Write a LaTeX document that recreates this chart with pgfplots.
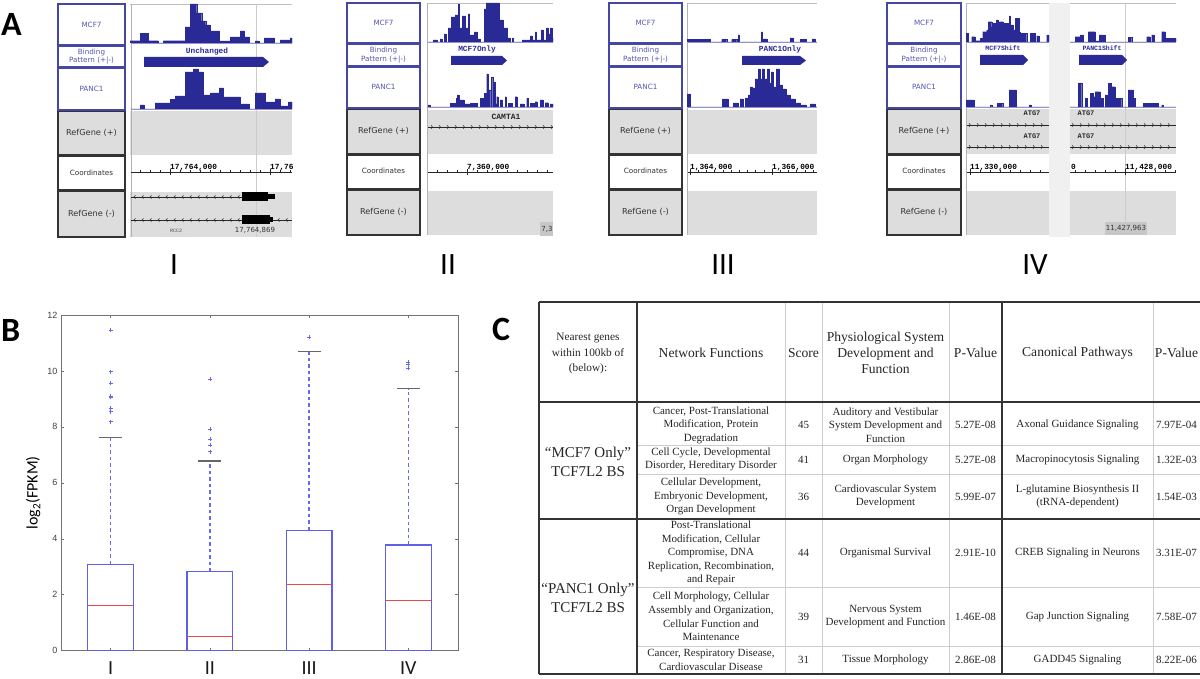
\documentclass[border=0pt]{standalone}
\usepackage{pgfplots}
\pgfplotsset{compat=1.18}
\usepgfplotslibrary{statistics}
\usepackage{fontspec}
\setmainfont{Liberation Serif}
\newfontfamily\carl{Carlito}
\newfontfamily\lsans{Liberation Sans}
\newfontfamily\dv{DejaVu Sans}
\newfontfamily\mono{Liberation Mono}
\definecolor{trkc}{RGB}{42,42,150}
\definecolor{lblue}{RGB}{70,70,165}
\definecolor{ltxt}{RGB}{85,85,175}
\definecolor{gfill}{RGB}{221,221,221}
\definecolor{bpblue}{RGB}{95,95,235}
\definecolor{wblue}{RGB}{105,105,240}
\definecolor{bpred}{RGB}{240,70,70}
\definecolor{tgrey}{RGB}{205,205,205}

% histogram track: x0 x1 width baseline(px from top) height coords
\newcommand\trk[6]{%
\begin{axis}[at={(#1pt,{678pt-#4pt})}, anchor=south west, scale only axis,
  width=#3pt, height=#5pt, xmin=#1, xmax=#2, ymin=0, ymax=#5, hide axis, clip=true]
\addplot[const plot, fill=trkc, draw=trkc, line width=0.3pt] coordinates {#6} \closedcycle;
\end{axis}}

% label column
\newcommand\labelcol[9]{%
 \draw[lblue, line width=1.1pt, fill=white] (#1,#3) rectangle (#2,#4);
 \draw[lblue, line width=1.1pt, fill=white] (#1,{#4+1.5}) rectangle (#2,#5);
 \draw[lblue, line width=1.1pt, fill=white] (#1,{#5+1.5}) rectangle (#2,#6);
 \draw[black!80, line width=1.6pt, fill=gfill] (#1,{#6+1.5}) rectangle (#2,#7);
 \draw[black!80, line width=1.6pt, fill=white] (#1,{#7+1.5}) rectangle (#2,#8);
 \draw[black!80, line width=1.6pt, fill=gfill] (#1,{#8+1.5}) rectangle (#2,#9);
 \node[ltxt, font=\dv\fontsize{7.2}{8}\selectfont] at ({(#1+#2)/2},{(#3+#4)/2}) {MCF7};
 \node[ltxt, align=center, font=\dv\fontsize{7.2}{8.6}\selectfont] at ({(#1+#2)/2},{(#4+#5)/2+0.7}) {Binding\\Pattern (+|-)};
 \node[ltxt, font=\dv\fontsize{7.2}{8}\selectfont] at ({(#1+#2)/2},{(#5+#6)/2}) {PANC1};
 \node[black!80, font=\dv\fontsize{8.2}{9}\selectfont] at ({(#1+#2)/2},{(#6+#7)/2}) {RefGene (+)};
 \node[black!80, font=\dv\fontsize{7.2}{8}\selectfont] at ({(#1+#2)/2},{(#7+#8)/2}) {Coordinates};
 \node[black!80, font=\dv\fontsize{8.2}{9}\selectfont] at ({(#1+#2)/2},{(#8+#9)/2}) {RefGene (-)};
}
\newcommand\bmono{\mono\bfseries\fontsize{7.8}{8}\selectfont}
\newcommand\tc[3]{\node[align=center, font=\fontsize{11}{13.6}\selectfont, text=black!85, inner sep=0] at (#1,#2) {#3};}
\newcommand\thd[3]{\node[align=center, font=\fontsize{13.6}{16}\selectfont, text=black!85, inner sep=0] at (#1,#2) {#3};}

\begin{document}
\begin{tikzpicture}[x=1pt,y=1pt]
\fill[white] (0,0) rectangle (1200,678);

\begin{scope}[shift={(0pt,678pt)}, y=-1pt]
% ---------------- Panel letters
\node[anchor=base west, inner sep=0, font=\carl\bfseries\fontsize{34}{34}\selectfont] at (1,36) {A};
\node[anchor=base west, inner sep=0, font=\carl\bfseries\fontsize{34}{34}\selectfont] at (1,342) {B};
\node[anchor=base west, inner sep=0, font=\carl\bfseries\fontsize{34}{34}\selectfont] at (492,341) {C};
% roman numerals
\foreach \xx/\tt in {174/I,448/II,723/III,1035/IV}
  \node[anchor=base, inner sep=0, font=\carl\fontsize{31}{31}\selectfont] at (\xx,275) {\tt};

% ---------------- Panel I window
\fill[gfill] (130,111) rectangle (292,155);
\fill[gfill] (130,192) rectangle (292,237);
\draw[black!25, line width=0.6pt] (130,4)--(292,4);
\draw[black!30, line width=0.8pt] (131,4)--(131,237);
\draw[black!20, line width=0.6pt] (256,4)--(256,237);
\draw[trkc!50, line width=0.5pt] (131,43)--(292,43) (131,109)--(292,109);
\node[trkc, font=\bmono] at (207,51.5) {Unchanged};
\fill[trkc] (144,57)--(263,57)--(269,62)--(263,67)--(144,67)--cycle;
\draw[black!85, line width=0.8pt] (131,172)--(292,172);
\foreach \xx in {140,150,...,290} \draw[black!85, line width=0.5pt] (\xx,170.5)--(\xx,173.5);
\foreach \xx in {170,270} \draw[black!85, line width=0.9pt] (\xx,169)--(\xx,175);
\node[anchor=base west, inner sep=0, font=\bmono] at (170,170) {17,764,000};
\node[anchor=base west, inner sep=0, font=\bmono] at (270,170) {17,76};
\draw[black!85, line width=0.6pt] (131,197)--(242,197);
\foreach \xx in {134,142,...,238} \draw[black!85, line width=0.5pt] (\xx+1.5,195.3)--(\xx,197)--(\xx+1.5,198.7);
\fill[black] (242,192.5) rectangle (268,201.5);
\fill[black] (268,194.5) rectangle (275,199.5);
\draw[black!85, line width=0.6pt] (131,220)--(292,220);
\foreach \xx in {134,142,...,238} \draw[black!85, line width=0.5pt] (\xx+1.5,218.3)--(\xx,220)--(\xx+1.5,221.7);
\foreach \xx in {278,286} \draw[black!85, line width=0.5pt] (\xx+1.5,218.3)--(\xx,220)--(\xx+1.5,221.7);
\fill[black] (242,215.5) rectangle (270,224.5);
\fill[black] (270,217.5) rectangle (273,222.5);
\node[font=\mono\fontsize{5}{5}\selectfont, black!70] at (176,230.5) {RCC2};
\draw[black!15, line width=0.8pt] (160,234)--(188,234);
\node[font=\dv\fontsize{7}{7}\selectfont, black!80] at (255,230) {17,764,869};

% ---------------- Panel II window
\fill[gfill] (427,110) rectangle (553,154);
\fill[gfill] (427,191) rectangle (553,235);
\draw[black!25, line width=0.6pt] (427,3)--(553,3);
\draw[black!30, line width=0.8pt] (427.5,3)--(427.5,235);
\draw[trkc!50, line width=0.5pt] (428,42)--(553,42) (428,107)--(553,107);
\node[trkc, font=\bmono] at (477,49) {MCF7Only};
\fill[trkc] (451,56)--(502,56)--(507,60.5)--(502,65)--(451,65)--cycle;
\node[font=\mono\bfseries\fontsize{8}{8}\selectfont, black!85] at (506,117) {CAMTA1};
\draw[black!85, line width=0.6pt] (428,127)--(553,127);
\foreach \xx in {431,439,...,551} \draw[black!85, line width=0.5pt] (\xx,125.3)--(\xx+1.5,127)--(\xx,128.7);
\draw[black!85, line width=0.8pt] (428,172)--(553,172);
\foreach \xx in {437,447,...,547} \draw[black!85, line width=0.5pt] (\xx,170.5)--(\xx,173.5);
\draw[black!85, line width=0.9pt] (467,169)--(467,175);
\node[anchor=base west, inner sep=0, font=\bmono] at (467,170) {7,360,000};
\fill[black!22] (540,222) rectangle (553,236);
\node[font=\dv\fontsize{7}{7}\selectfont, black!80] at (547,229) {7,3};

% ---------------- Panel III window
\fill[gfill] (687,110) rectangle (817,154);
\fill[gfill] (687,191) rectangle (817,235);
\draw[black!25, line width=0.6pt] (687,3)--(817,3);
\draw[black!30, line width=0.8pt] (687.5,3)--(687.5,235);
\draw[trkc!50, line width=0.5pt] (688,42)--(817,42) (688,107)--(817,107);
\node[trkc, font=\bmono] at (780,49) {PANC1Only};
\fill[trkc] (742,56)--(800,56)--(806,60.5)--(800,65)--(742,65)--cycle;
\draw[black!85, line width=0.8pt] (688,172)--(817,172);
\foreach \xx in {698.2,706.4,...,815} \draw[black!85, line width=0.5pt] (\xx,170.5)--(\xx,173.5);
\foreach \xx in {690,772} \draw[black!85, line width=0.9pt] (\xx,169)--(\xx,175);
\node[anchor=base west, inner sep=0, font=\bmono] at (690,170) {1,364,000};
\node[anchor=base west, inner sep=0, font=\bmono] at (772,170) {1,366,000};

% ---------------- Panel IV windows
\fill[black!6] (1049,3) rectangle (1070,237);
\fill[gfill] (966,109) rectangle (1049,154);
\fill[gfill] (1070,109) rectangle (1176,154);
\fill[gfill] (966,191) rectangle (1049,235);
\fill[gfill] (1070,191) rectangle (1176,235);
\draw[black!25, line width=0.6pt] (966,3)--(1049,3) (1070,3)--(1176,3);
\draw[black!30, line width=0.8pt] (966.5,3)--(966.5,235);
\draw[black!20, line width=0.6pt] (1125,3)--(1125,235);
\draw[trkc!50, line width=0.5pt] (967,42)--(1049,42) (1070,42)--(1176,42) (967,107)--(1049,107) (1070,107)--(1176,107);
\node[trkc, font=\mono\bfseries\fontsize{6.5}{7}\selectfont] at (1003,48) {MCF7Shift};
\fill[trkc] (980,55)--(1023,55)--(1028,60)--(1023,65)--(980,65)--cycle;
\node[trkc, font=\mono\bfseries\fontsize{6.5}{7}\selectfont] at (1102,48) {PANC1Shift};
\fill[trkc] (1079,55)--(1122,55)--(1127,60)--(1122,65)--(1079,65)--cycle;
\foreach \yy in {113,136} {
  \node[font=\mono\bfseries\fontsize{7}{7}\selectfont, black!85] at (1032,\yy) {ATG7};
  \node[font=\mono\bfseries\fontsize{7}{7}\selectfont, black!85] at (1086,\yy) {ATG7};
}
\foreach \yy in {125,147} {
  \draw[black!85, line width=0.6pt] (967,\yy)--(1049,\yy) (1070,\yy)--(1176,\yy);
  \foreach \xx in {969,977,...,1047} \draw[black!85, line width=0.5pt] (\xx,\yy-1.7)--(\xx+1.5,\yy)--(\xx,\yy+1.7);
  \foreach \xx in {1072,1080,...,1174} \draw[black!85, line width=0.5pt] (\xx,\yy-1.7)--(\xx+1.5,\yy)--(\xx,\yy+1.7);
}
\draw[black!85, line width=0.8pt] (967,172)--(1049,172) (1070,172)--(1176,172);
\foreach \xx in {980,990,...,1040} \draw[black!85, line width=0.5pt] (\xx,170.5)--(\xx,173.5);
\foreach \xx in {1075,1085,...,1175} \draw[black!85, line width=0.5pt] (\xx,170.5)--(\xx,173.5);
\foreach \xx in {970,1125} \draw[black!85, line width=0.9pt] (\xx,169)--(\xx,175);
\node[anchor=base west, inner sep=0, font=\bmono] at (970,170) {11,330,000};
\node[anchor=base west, inner sep=0, font=\bmono] at (1125,170) {11,428,000};
\node[anchor=base west, inner sep=0, font=\bmono] at (1071,170) {0};
\fill[black!22] (1105,222) rectangle (1147,235);
\node[font=\dv\fontsize{7}{7}\selectfont, black!80] at (1126,228.5) {11,427,963};

% ---------------- label columns
\labelcol{58}{125}{4}{45}{67}{110}{155}{190}{237}
\labelcol{347}{420}{3}{43}{65.5}{108}{153.5}{189}{235}
\labelcol{609}{682}{3}{43}{65.5}{108}{153.5}{189}{235}
\labelcol{887}{961}{3}{43}{65.5}{108}{153.5}{189}{235}

% ---------------- Panel C table
\draw[tgrey, line width=0.8pt] (785,302)--(785,674) (822,302)--(822,674) (949,302)--(949,674) (1153,302)--(1153,674);
\draw[tgrey, line width=0.8pt] (637,445)--(1200,445) (637,474)--(1200,474) (637,587)--(1200,587) (637,646)--(1200,646);
\draw[black!80, line width=1.2pt] (539,302)--(1201,302) (539,674)--(1201,674) (539,302)--(539,674);
\draw[black!80, line width=1.2pt] (637,302)--(637,674) (1002,302)--(1002,674) (539,402)--(1200,402) (539,519)--(1200,519);
\node[align=center, font=\fontsize{11.3}{15.5}\selectfont, text=black!85, inner sep=0] at (588,354) {Nearest genes\\within 100kb of\\(below):};
\thd{711}{353}{Network Functions}
\thd{803.5}{353}{Score}
\thd{885.5}{353}{Physiological System\\Development and\\Function}
\thd{975.5}{353}{P-Value}
\thd{1077.5}{353}{Canonical Pathways}
\thd{1176.5}{353}{P-Value}
\node[align=center, font=\fontsize{15}{18.5}\selectfont, text=black!85, inner sep=0] at (588,462) {“MCF7 Only”\\TCF7L2 BS};
\node[align=center, font=\fontsize{15}{18.5}\selectfont, text=black!85, inner sep=0] at (588,598) {“PANC1 Only”\\TCF7L2 BS};
% row 1
\tc{711}{425}{Cancer, Post-Translational\\Modification, Protein\\Degradation}
\tc{803.5}{425}{45}
\tc{885.5}{425}{Auditory and Vestibular\\System Development and\\Function}
\tc{975.5}{425}{5.27E-08}
\tc{1077.5}{425}{Axonal Guidance Signaling}
\tc{1176.5}{425}{7.97E-04}
% row 2
\tc{711}{459.5}{Cell Cycle, Developmental\\Disorder, Hereditary Disorder}
\tc{803.5}{459.5}{41}
\tc{885.5}{459.5}{Organ Morphology}
\tc{975.5}{459.5}{5.27E-08}
\tc{1077.5}{459.5}{Macropinocytosis Signaling}
\tc{1176.5}{459.5}{1.32E-03}
% row 3
\tc{711}{496.5}{Cellular Development,\\Embryonic Development,\\Organ Development}
\tc{803.5}{496.5}{36}
\tc{885.5}{496.5}{Cardiovascular System\\Development}
\tc{975.5}{496.5}{5.99E-07}
\tc{1077.5}{496.5}{L-glutamine Biosynthesis II\\(tRNA-dependent)}
\tc{1176.5}{496.5}{1.54E-03}
% row 4
\tc{711}{553}{Post-Translational\\Modification, Cellular\\Compromise, DNA\\Replication, Recombination,\\and Repair}
\tc{803.5}{553}{44}
\tc{885.5}{553}{Organismal Survival}
\tc{975.5}{553}{2.91E-10}
\tc{1077.5}{553}{CREB Signaling in Neurons}
\tc{1176.5}{553}{3.31E-07}
% row 5
\tc{711}{616.5}{Cell Morphology, Cellular\\Assembly and Organization,\\Cellular Function and\\Maintenance}
\tc{803.5}{616.5}{39}
\tc{885.5}{616.5}{Nervous System\\Development and Function}
\tc{975.5}{616.5}{1.46E-08}
\tc{1077.5}{616.5}{Gap Junction Signaling}
\tc{1176.5}{616.5}{7.58E-07}
% row 6
\tc{711}{660}{Cancer, Respiratory Disease,\\Cardiovascular Disease}
\tc{803.5}{660}{31}
\tc{885.5}{660}{Tissue Morphology}
\tc{975.5}{660}{2.86E-08}
\tc{1077.5}{660}{GADD45 Signaling}
\tc{1176.5}{660}{8.22E-06}
\end{scope}

% ---------------- Panel A histogram tracks
\trk{130}{292}{162}{43}{39}{(130,2.3)(140,9.7)(148.3,2.3)(158.3,0)(163.3,2.3)(185,16)(190,39)(196.7,30)(201.7,22)(205.7,18)(210,12)(219,2)(230,6)(240,12)(244.3,6)(249,0)(255,2)(259.3,0)(264.3,5)(274,0)(280,3)(290,5)(292,5)}
\trk{130}{292}{162}{109}{40}{(130,0)(140,4)(144,0)(155,6)(170,9.5)(175,13)(185,37)(193.3,40)(198.3,37)(203.3,14)(210,16)(219,21)(223.3,12)(240,5)(249.3,0)(255,16)(265,7)(275,10)(280,3)(288.3,7)(292,7)}
\trk{427}{553}{126}{42}{39}{(427,0)(433,2)(437,0)(440,3)(442,0)(444,8)(446,0)(448,14)(451,25)(455,27)(458,38)(459,14)(462,26)(465,14)(468,28)(469.5,7)(472,7)(474,10)(477,3)(480,0)(484,33)(486,39)(497,39)(499,22)(503,14)(507,4)(510,0)(512,4)(513,0)(520,0)(522,2)(530,6)(532,2)(535,10)(536.5,2)(541,12)(543,2)(546,14)(548,8)(550,14)(552,4)(553,4)}
\trk{427}{553}{126}{107}{39}{(427,0)(428,2)(430,0)(450,3.7)(455,0)(456,8.7)(457.5,12)(459,0)(460,7)(464,0)(465,3)(469,0)(470,3.7)(474,0)(475,3.7)(477,0)(480,8.7)(483,0)(484,13.7)(486,0)(486.7,33)(488,0)(488.7,17)(490.7,0)(491.3,30)(492.7,0)(493.3,25)(495,3)(496.7,10.3)(498,0)(500,7)(502,0)(505,10.3)(506,0)(508.3,3.7)(512,0)(515,10.3)(517,0)(520,3)(524,0)(526.7,8.7)(528,0)(530,3.7)(534,0)(535,5.3)(537,0)(540,7)(543,0)(545,4.3)(548,0)(550,3)(553,3)}
\trk{687}{817}{130}{42}{39}{(687,2.7)(710,0)(721.7,2.7)(726.7,0)(731.7,2.7)(736.7,0)(738,7)(739.5,0)(761,10)(762.5,0)(763.5,3)(767,0)(790,4)(793,0)(800,2.7)(806,0)(812,3)(815,0)(817,0)}
\trk{687}{817}{130}{107}{39}{(687,13)(690,0)(722,8)(728,0)(733,4)(738,0)(740,8)(743,0)(745,9)(748,12)(750,20)(752,19)(755,28)(758,38)(760,28)(762,38)(764,28)(767,38)(769,24)(771,35)(773,20)(776,38)(779,22)(782,18)(786,12)(790,8)(795,4)(800,2)(806,0)(810,3)(815,0)(817,0)}
\trk{966}{1049}{83}{42}{39}{(966,8.7)(968.3,0)(971.7,5.3)(975,1.3)(980,3.7)(982.7,10.3)(986.7,12)(988.3,20.3)(991.7,15)(993.3,18.7)(996,22)(998.3,14)(999.3,20.3)(1003.3,16)(1004,18.7)(1008.3,14)(1009,26)(1010.3,14)(1011,17)(1013.3,12)(1015,23.7)(1019,10)(1020,8.7)(1026.7,0)(1030,8.7)(1035,0)(1036.7,6)(1039,0)(1046.7,7)(1049,7)}
\trk{1070}{1176}{106}{42}{39}{(1070,0)(1075,5.3)(1080,7)(1083.3,0)(1088.3,10.3)(1095,1)(1099.3,7)(1105,0)(1128.3,4.7)(1131.7,0)(1146.7,5.3)(1150,0)(1151.7,7)(1154,0)(1161.7,10.3)(1165,3.7)(1176,3.7)}
\trk{966}{1049}{83}{107}{39}{(966,7)(974,0)(990,2)(991.7,0)(997.3,3.7)(1002.7,0)(1009,17)(1016,0)(1029,2)(1031,0)(1049,0)}
\trk{1070}{1176}{106}{107}{39}{(1070,0)(1078.3,24)(1081.7,0)(1085,8.7)(1087.3,0)(1090,13.7)(1093.3,10.3)(1095,15.3)(1100,0)(1101,8.7)(1103.3,0)(1105,12)(1108.3,23.7)(1111,20.3)(1115,8.7)(1121.7,0)(1128.3,17)(1133.3,8.7)(1135,0)(1143.3,3.7)(1158.3,0)(1161.7,2)(1163.3,0)(1176,0)}

% ---------------- Panel B boxplot
\begin{axis}[at={(61pt,27.3pt)}, anchor=south west, scale only axis,
  width=397pt, height=335.7pt,
  xmin=0.5, xmax=4.5, ymin=0, ymax=12,
  xtick={1,2,3,4}, xticklabels={I,II,III,IV},
  ytick={0,2,4,6,8,10,12},
  tick align=inside, major tick length=3pt,
  axis line style={draw=black!55, line width=0.9pt},
  every tick/.style={draw=black!55, line width=0.6pt},
  /pgf/number format/assume math mode=true,
  yticklabel style={font=\lsans\fontsize{9}{9}\selectfont, text=black!75},
  xticklabel style={font=\carl\fontsize{20}{20}\selectfont, text=black!90, anchor=base, yshift=-24pt},
  ylabel={log\textsubscript{2}(FPKM)},
  every axis y label/.style={at={(axis description cs:-0.07,0.47)}, rotate=90, anchor=center, font=\carl\fontsize{16}{16}\selectfont},
  boxplot/draw direction=y,
  boxplot/box extend=0.46, boxplot/whisker extend=0.23,
  boxplot/every box/.style={draw=bpblue, line width=1.1pt},
  boxplot/every median/.style={draw=bpred, line width=1.1pt},
  boxplot/draw/upper whisker/.code={
    \draw[wblue, dash pattern=on 3.5pt off 3pt, line width=1.3pt]
      (boxplot cs:\pgfplotsboxplotvalue{upper quartile}) -- (boxplot cs:\pgfplotsboxplotvalue{upper whisker});
    \draw[black!60, line width=1.1pt]
      (boxplot whisker cs:\pgfplotsboxplotvalue{upper whisker},0) -- (boxplot whisker cs:\pgfplotsboxplotvalue{upper whisker},1);
  },
  boxplot/draw/lower whisker/.code={},
]
\addplot[boxplot prepared={draw position=1, lower whisker=0, lower quartile=0, median=1.60, upper quartile=3.09, upper whisker=7.61},
  draw=bpblue, mark=+, mark size=2pt, mark options={draw=wblue, solid, line width=0.7pt}]
  table[row sep=\\, y index=0] {data\\11.45\\9.97\\9.56\\9.10\\9.06\\8.66\\8.54\\8.19\\};
\addplot[boxplot prepared={draw position=2, lower whisker=0, lower quartile=0, median=0.52, upper quartile=2.82, upper whisker=6.78},
  draw=bpblue, mark=+, mark size=2pt, mark options={draw=wblue, solid, line width=0.7pt}]
  table[row sep=\\, y index=0] {data\\9.71\\7.92\\7.55\\7.34\\7.11\\};
\addplot[boxplot prepared={draw position=3, lower whisker=0, lower quartile=0, median=2.38, upper quartile=4.31, upper whisker=10.70},
  draw=bpblue, mark=+, mark size=2pt, mark options={draw=wblue, solid, line width=0.7pt}]
  table[row sep=\\, y index=0] {data\\11.21\\};
\addplot[boxplot prepared={draw position=4, lower whisker=0, lower quartile=0, median=1.80, upper quartile=3.78, upper whisker=9.37},
  draw=bpblue, mark=+, mark size=2pt, mark options={draw=wblue, solid, line width=0.7pt}]
  table[row sep=\\, y index=0] {data\\10.31\\10.25\\10.09\\};
\end{axis}

\pgfresetboundingbox
\useasboundingbox (0,0) rectangle (1200,678);
\end{tikzpicture}
\end{document}
